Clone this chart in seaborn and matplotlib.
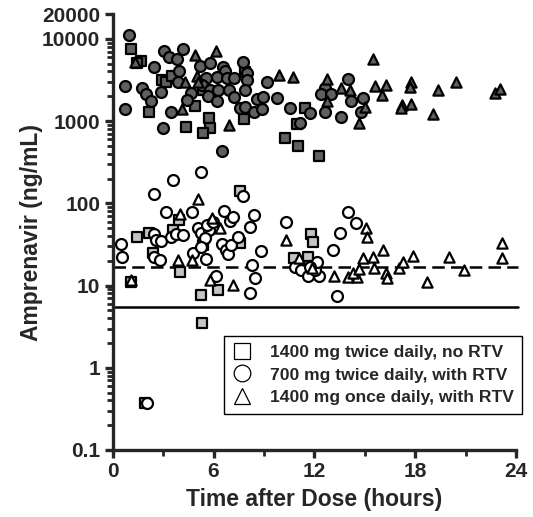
import numpy as np
import pandas as pd
import seaborn as sns
import matplotlib.pyplot as plt
from matplotlib.lines import Line2D
from matplotlib.ticker import FixedLocator, LogLocator, NullFormatter

# 1400 mg twice daily, no RTV
sq_fill_t = [1.07, 1.68, 1.43, 2.16, 2.95, 3.17, 3.51, 4.36, 4.90, 5.36, 5.71, 5.79, 5.39,
             7.88, 7.83, 11.45, 10.95, 10.26, 11.05, 12.30]
sq_fill_c = [7480, 5440, 5060, 1300, 3110, 2940, 3540, 841, 1530, 2350, 1100, 818, 711,
             3890, 1060, 1430, 923, 629, 503, 377]
sq_open_t = [1.46, 2.18, 2.38, 3.61, 3.96, 5.39, 4.01, 5.24, 6.29, 7.58, 7.58, 1.07, 5.30,
             1.92, 11.79, 11.90, 10.81, 11.64, 11.70]
sq_open_c = [38.6, 44.0, 24.7, 47.4, 62.8, 31.1, 14.7, 7.7, 8.8, 139, 32.6, 11.1, 3.5,
             0.37, 42.0, 34.1, 21.8, 22.4, 17.3]

# 700 mg twice daily, with RTV
ci_fill_t = [0.99, 3.05, 3.35, 3.81, 4.17, 2.48, 0.73, 0.71, 1.73, 1.98, 2.30, 2.86, 3.47,
             3.01, 3.96, 3.90, 4.68, 4.44, 5.20, 5.79, 5.54, 5.30, 5.79, 5.69, 6.25, 6.19,
             6.58, 6.68, 6.23, 6.82, 7.24, 6.92, 7.24, 7.77, 7.98, 8.01, 7.88, 7.58, 7.88,
             8.41, 8.57, 8.87, 8.96, 9.17, 6.52, 9.76, 10.55, 11.74, 11.15, 13.99, 12.64,
             12.38, 12.98, 14.18, 14.88, 14.76, 12.64, 13.59]
ci_fill_c = [11170, 7190, 5980, 5700, 7480, 4600, 2630, 1390, 2510, 2140, 1770, 2280, 1270,
             818, 4000, 3020, 2220, 1810, 4690, 5060, 3320, 2750, 2390, 1990, 2350, 1730,
             4600, 4110, 3420, 3320, 3320, 2350, 1950, 5290, 3820, 3170, 2390, 1430, 1470,
             1300, 1840, 1390, 1950, 3020, 433, 1930, 1430, 1250, 957, 3260, 2510,
             2140, 2140, 1770, 1880, 1270, 1270, 1130]
ci_open_t = [5.24, 3.57, 2.48, 3.15, 4.74, 0.49, 0.57, 2.48, 2.56, 2.86, 2.48, 2.82, 3.47,
             3.75, 4.20, 5.10, 5.24, 5.73, 5.60, 5.99, 5.49, 4.80, 5.24, 5.55, 6.64, 6.98,
             7.18, 6.49, 6.74, 6.88, 7.02, 7.48, 8.17, 8.43, 7.77, 8.83, 8.27, 8.47, 8.17,
             6.15, 10.32, 13.99, 14.46, 13.53, 13.10, 13.33, 10.85, 11.19, 11.64, 12.30,
             12.04, 12.14, 11.74, 2.04]
ci_open_c = [243, 192, 130, 77.9, 77.9, 31.7, 22.2, 42.4, 35.8, 34.8, 22.4, 20.5, 38.6,
             42.4, 41.2, 49.8, 43.2, 47.4, 54.6, 59.8, 37.6, 25.1, 29.6, 21.0, 80.7, 61.0,
             67.7, 32.0, 27.1, 24.2, 31.1, 38.6, 51.2, 72.3, 121, 26.5, 17.8, 12.2, 8.05,
             13.2, 58.8, 79.2, 57.2, 44.0, 27.1, 7.5, 16.7, 15.5, 13.1, 13.1,
             15.5, 19.5, 16.7, 0.37]

# 1400 mg once daily, with RTV
tr_fill_t = [1.33, 4.90, 6.15, 5.00, 5.10, 4.30, 4.14, 6.92, 9.90, 10.71, 15.51, 12.77,
             13.57, 14.13, 12.77, 15.02, 14.66, 15.61, 16.27, 16.01, 17.74, 17.70, 17.20,
             17.14, 17.74, 19.35, 20.43, 19.08, 22.76, 23.05]
tr_fill_c = [5200, 6380, 7190, 3540, 3020, 2970, 1410, 898, 3650, 3470, 5660, 3230,
             2510, 2350, 1730, 1470, 957, 2680, 2750, 2080, 3020, 2580, 1570,
             1430, 1620, 2390, 3020, 1210, 2220, 2440]
tr_open_t = [5.10, 4.01, 5.89, 6.39, 3.90, 4.74, 5.79, 7.18, 1.07, 10.32, 11.09, 11.85,
             13.17, 14.02, 14.52, 14.32, 14.68, 14.92, 15.51, 15.55, 16.07, 15.08, 15.15,
             16.27, 16.35, 17.06, 17.26, 17.86, 18.69, 20.04, 20.93, 23.19, 23.15]
tr_open_c = [112, 74.3, 65.8, 49.8, 20.5, 20.5, 11.7, 10.2, 11.7, 35.8, 21.8, 16.2,
             13.1, 12.6, 12.6, 14.1, 15.8, 21.5, 22.4, 16.2, 27.1, 50.6, 39.3,
             14.1, 12.2, 16.2, 19.5, 23.1, 11.0, 22.4, 15.5, 32.6, 21.8]

dashed_level = 17.0
solid_level = 5.5

regimens = ['1400 mg twice daily, no RTV', '700 mg twice daily, with RTV',
            '1400 mg once daily, with RTV']
y_ticks = [0.1, 1, 10, 100, 1000, 10000, 20000]
y_labels = ['0.1', '1', '10', '100', '1000', '10000', '20000']
x_ticks = [0, 6, 12, 18, 24]


def make_df():
    rows = []
    groups = [
        (regimens[0], 'filled', sq_fill_t, sq_fill_c),
        (regimens[0], 'open', sq_open_t, sq_open_c),
        (regimens[1], 'filled', ci_fill_t, ci_fill_c),
        (regimens[1], 'open', ci_open_t, ci_open_c),
        (regimens[2], 'filled', tr_fill_t, tr_fill_c),
        (regimens[2], 'open', tr_open_t, tr_open_c),
    ]
    for reg, kind, ts, cs in groups:
        for t, c in zip(ts, cs):
            rows.append({'time': t, 'conc': c, 'regimen': reg, 'kind': kind})
    return pd.DataFrame(rows)


sns.set_style('ticks')
plt.rcParams['font.family'] = ['Liberation Sans', 'DejaVu Sans']
plt.rcParams['font.weight'] = 'bold'

df = make_df()

fig = plt.figure(figsize=(5.33, 5.17), dpi=100)
ax = fig.add_axes([0.2114, 0.1296, 0.7567, 0.8433])

markers = {regimens[0]: 's', regimens[1]: 'o', regimens[2]: '^'}
sizes = {regimens[0]: 56, regimens[1]: 62, regimens[2]: 54}
open_face = {regimens[0]: '#c4c4c4', regimens[1]: 'white', regimens[2]: 'white'}

for reg in regimens:
    sub = df[(df.regimen == reg) & (df.kind == 'filled')]
    sns.scatterplot(data=sub, x='time', y='conc', marker=markers[reg], s=sizes[reg],
                    color='#606060', edgecolor='black', linewidth=1.6, ax=ax,
                    legend=False, zorder=3)
for reg in regimens:
    sub = df[(df.regimen == reg) & (df.kind == 'open')]
    sns.scatterplot(data=sub, x='time', y='conc', marker=markers[reg], s=sizes[reg],
                    color=open_face[reg], edgecolor='black', linewidth=1.6, ax=ax,
                    legend=False, zorder=3)

ax.plot([0, 24.1], [dashed_level, dashed_level], color='black', lw=1.8,
        dashes=(5, 2.5), clip_on=False, zorder=2)
ax.plot([0, 24.1], [solid_level, solid_level], color='black', lw=1.8,
        clip_on=False, zorder=2)

ax.set_yscale('log')
ax.set_ylim(0.1, 20000)
ax.set_xlim(0, 24)
ax.yaxis.set_major_locator(FixedLocator(y_ticks))
ax.set_yticklabels(y_labels)
ax.yaxis.set_minor_locator(LogLocator(base=10, subs=np.arange(2, 10), numticks=20))
ax.yaxis.set_minor_formatter(NullFormatter())
ax.set_xticks(x_ticks)
ax.set_xticks([3, 9, 15, 21], minor=True)

for side in ['top', 'right']:
    ax.spines[side].set_visible(False)
for side in ['left', 'bottom']:
    ax.spines[side].set_linewidth(2.4)
ax.tick_params(which='major', direction='out', length=6, width=2.4,
               labelsize=15, pad=3)
ax.tick_params(which='minor', direction='out', length=4, width=2.0)
for lab in ax.get_xticklabels() + ax.get_yticklabels():
    lab.set_fontweight('bold')

ax.set_xlabel('Time after Dose (hours)', fontsize=16.5, fontweight='bold')
ax.set_ylabel('Amprenavir (ng/mL)', fontsize=16.5, fontweight='bold')
ax.xaxis.set_label_coords(0.5, -38 / 436)
ax.yaxis.set_label_coords(-70 / 403, 0.5)

handles = [Line2D([], [], linestyle='none', marker=markers[r], markersize=12,
                  markerfacecolor='white', markeredgecolor='black',
                  markeredgewidth=0.9) for r in regimens]
leg = ax.legend(handles, regimens, loc='upper left',
                bbox_to_anchor=(224 / 533, 1 - 336 / 517),
                bbox_transform=fig.transFigure, frameon=True, fancybox=False,
                framealpha=1, edgecolor='black', handletextpad=1.1,
                borderpad=0.5, labelspacing=0.42, handlelength=1.0,
                borderaxespad=0, prop={'weight': 'bold', 'size': 12.6})
leg.get_frame().set_linewidth(1.0)

fig.savefig('out.png', dpi=100)
